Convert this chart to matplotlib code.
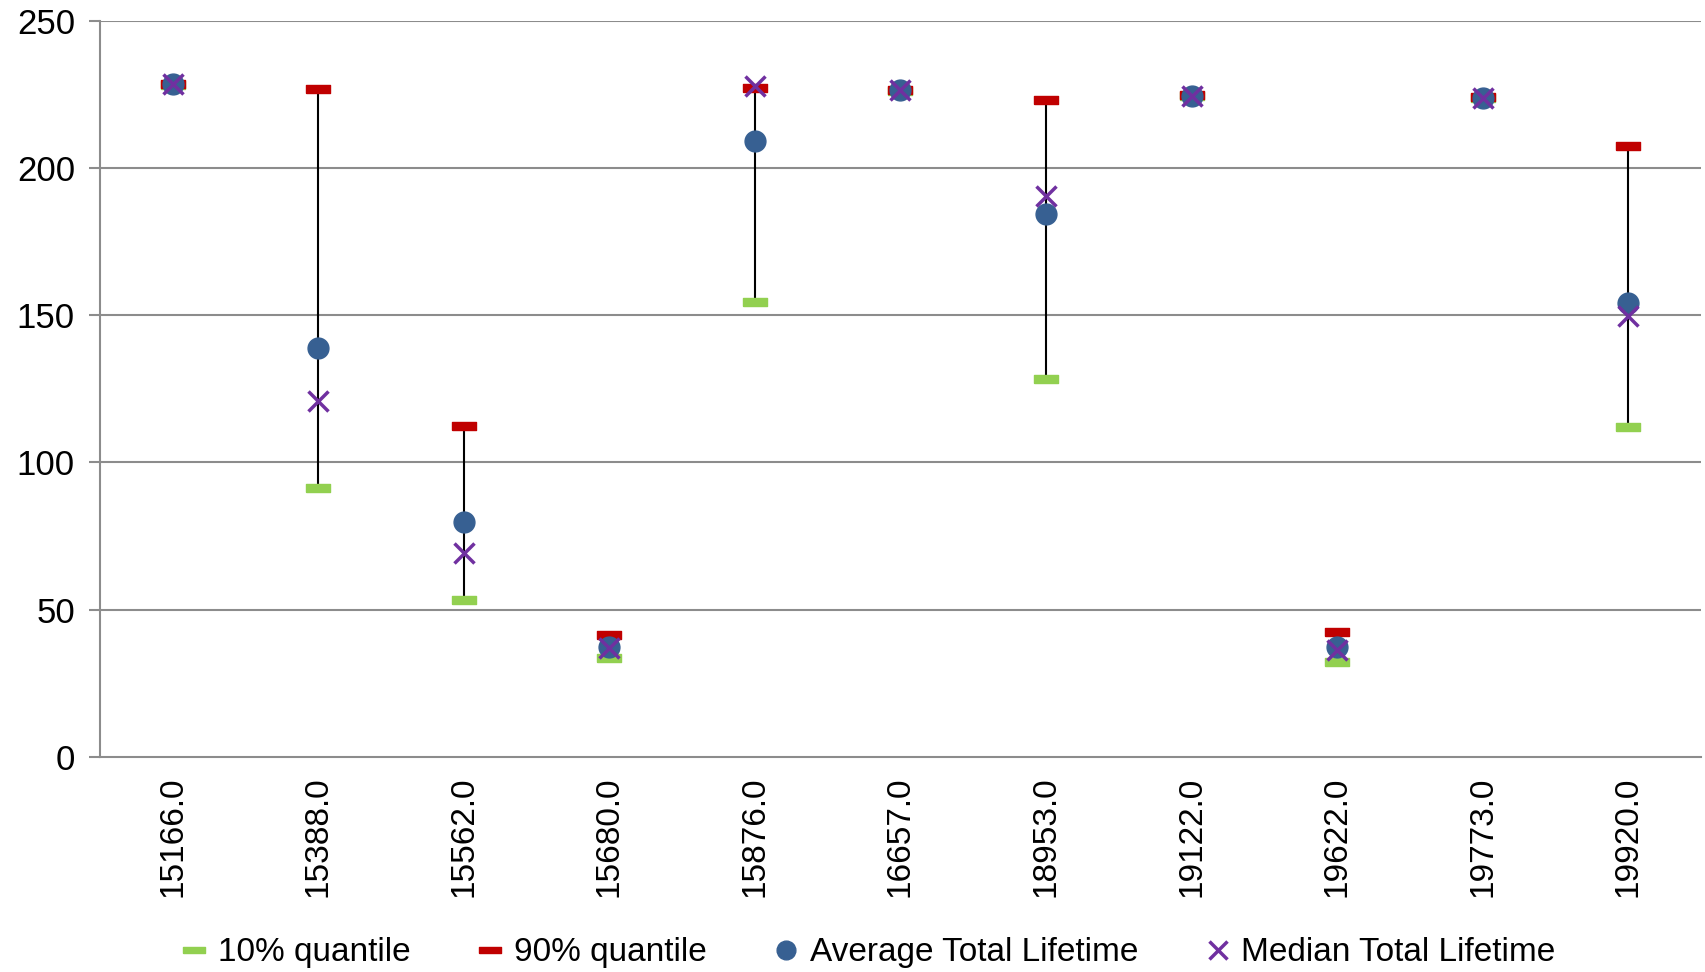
import matplotlib
matplotlib.use('Agg')
import matplotlib.pyplot as plt

plt.rcParams['font.family'] = ['Liberation Sans', 'DejaVu Sans']

# 数据
categories = ['15166.0', '15388.0', '15562.0', '15680.0', '15876.0', '16657.0',
              '18953.0', '19122.0', '19622.0', '19773.0', '19920.0']
q10 = [228.3, 91.2, 53.2, 33.6, 154.4, 226.3, 128.5, 224.4, 32.1, 223.7, 111.9]
q90 = [228.6, 226.7, 112.3, 41.4, 227.1, 226.6, 223.0, 224.7, 42.5, 224.0, 207.5]
avg = [228.5, 138.8, 79.8, 37.3, 209.0, 226.4, 184.3, 224.5, 37.3, 223.8, 154.0]
median = [228.4, 120.8, 69.4, 37.0, 227.8, 226.5, 190.5, 224.6, 36.2, 223.9, 149.6]

x = list(range(len(categories)))

fig = plt.figure(figsize=(17.06, 9.72), dpi=100)
ax = fig.add_axes([0.0586, 0.2212, 0.9384, 0.7575])

grid_col = '#8c8c8c'
for v in [50, 100, 150, 200, 250]:
    ax.axhline(v, color=grid_col, lw=1.5, zorder=0)

# 高低线
ax.vlines(x, q10, q90, color='black', lw=1.5, zorder=1)

bar = [(-1, -0.3), (1, -0.3), (1, 0.3), (-1, 0.3), (-1, -0.3)]
ax.plot(x, q10, ls='none', marker=bar, ms=17, color='#92D050', mec='#92D050',
        label='10% quantile', zorder=2)
ax.plot(x, q90, ls='none', marker=bar, ms=17, color='#C00000', mec='#C00000',
        label='90% quantile', zorder=3)
ax.plot(x, avg, ls='none', marker='o', ms=15, color='#376092', mec='#376092',
        label='Average Total Lifetime', zorder=4)
ax.plot(x, median, ls='none', marker='x', ms=14, mew=2.5, color='#7030A0',
        label='Median Total Lifetime', zorder=5)

ax.set_xlim(-0.5, len(categories) - 0.5)
ax.set_ylim(0, 250)
ax.set_yticks([0, 50, 100, 150, 200, 250])
ax.set_xticks(x)
ax.set_xticklabels(categories, rotation=90)
ax.tick_params(axis='y', labelsize=25, length=8, width=1.5, color=grid_col, pad=10)
ax.tick_params(axis='x', labelsize=24, length=0, pad=14)

for s in ['top', 'right']:
    ax.spines[s].set_visible(False)
for s in ['left', 'bottom']:
    ax.spines[s].set_color(grid_col)
    ax.spines[s].set_linewidth(1.5)

fig.legend(loc='lower center', bbox_to_anchor=(0.51, -0.027), ncol=4, frameon=False,
           fontsize=24, handlelength=0.6, handletextpad=0.4, columnspacing=2.1,
           markerscale=0.9)

fig.savefig('out.png', dpi=100)
